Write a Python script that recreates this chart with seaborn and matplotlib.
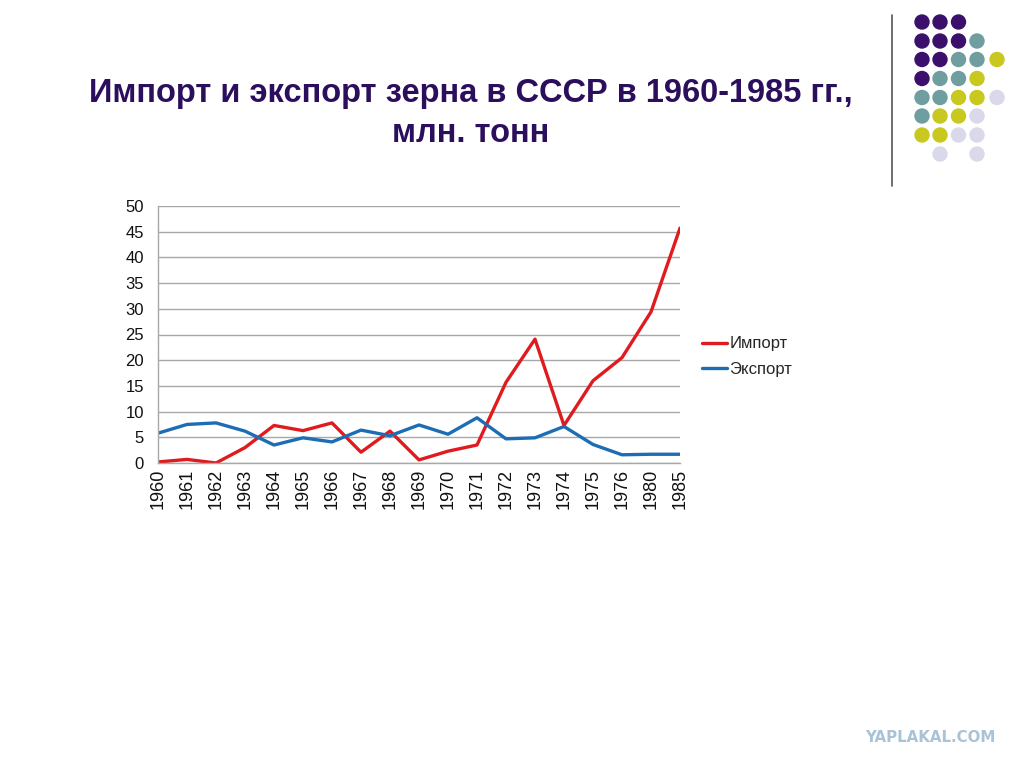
import pandas as pd
import numpy as np
import matplotlib
matplotlib.use("Agg")
import matplotlib.pyplot as plt
import seaborn as sns
from matplotlib.patches import Circle
from matplotlib.lines import Line2D

# grain import / export of the USSR, mln tonnes
years = ['1960', '1961', '1962', '1963', '1964', '1965', '1966', '1967', '1968', '1969',
         '1970', '1971', '1972', '1973', '1974', '1975', '1976', '1980', '1985']
import_vals = [0.2, 0.7, 0.0, 3.0, 7.3, 6.3, 7.8, 2.1, 6.2, 0.6,
               2.3, 3.5, 15.7, 24.1, 7.3, 16.0, 20.5, 29.4, 45.7]
export_vals = [5.8, 7.5, 7.8, 6.2, 3.5, 4.9, 4.1, 6.4, 5.3, 7.4,
               5.6, 8.8, 4.7, 4.9, 7.1, 3.6, 1.6, 1.7, 1.7]
series_names = ['Импорт', 'Экспорт']
series_colors = ['#e01b1f', '#1c6db4']
title_lines = ['Импорт и экспорт зерна в СССР в 1960-1985 гг.,', 'млн. тонн']

# decorative dot pattern of the slide template (P purple, T teal, Y yellow, L lilac)
dot_rows = ['PPP..', 'PPPT.', 'PPTTY', 'PTTY.', 'TTYYL', 'TYYL.', 'YYLL.', '.L.L.']
dot_colors = {'P': '#3b0f6b', 'T': '#6f9da0', 'Y': '#c9c81f', 'L': '#d9d9ea'}

df = pd.DataFrame({'year': years * 2,
                   'value': import_vals + export_vals,
                   'series': [series_names[0]] * len(years) + [series_names[1]] * len(years)})

sns.set_style('white')
plt.rcParams['font.family'] = ['Liberation Sans', 'DejaVu Sans']

W, H = 1024, 767
fig = plt.figure(figsize=(W / 100, H / 100), dpi=100)
ax = fig.add_axes([158 / W, 1 - 463 / H, 522 / W, 257 / H])

sns.lineplot(data=df, x='year', y='value', hue='series', palette=series_colors,
             linewidth=2.4, ax=ax, legend=False, sort=False)

ax.set_xlim(0, len(years) - 1)
ax.set_ylim(0, 50)
ax.set_yticks(np.arange(0, 51, 5))
ax.yaxis.grid(True, color='#a8a8a8', linewidth=1)
ax.set_axisbelow(True)
ax.set_xlabel('')
ax.set_ylabel('')
for s in ['top', 'right']:
    ax.spines[s].set_visible(False)
for s in ['left', 'bottom']:
    ax.spines[s].set_color('#a8a8a8')
    ax.spines[s].set_linewidth(1)
ax.tick_params(axis='x', rotation=90, labelsize=13, length=3, color='#a8a8a8', pad=1)
ax.tick_params(axis='y', labelsize=12, length=4, color='#a8a8a8', pad=6)
for lbl in ax.get_xticklabels() + ax.get_yticklabels():
    lbl.set_color('#111111')

handles = [Line2D([0], [0], color=c, lw=2.4) for c in series_colors]
fig.legend(handles, series_names, loc='upper left', bbox_to_anchor=(694 / W, 1 - 328 / H),
           frameon=False, fontsize=12, handlelength=1.5, handletextpad=0.12, labelspacing=0.62,
           borderpad=0)

for txt, base in zip(title_lines, [102, 142]):
    fig.text(471 / W, 1 - base / H, txt, ha='center', va='baseline', fontsize=23.5,
             fontweight='bold', color='#2b0f5c')

# slide template decorations
fig.add_artist(Line2D([892 / W, 892 / W], [1 - 15 / H, 1 - 186 / H],
                      color='#555555', lw=1.2, transform=fig.transFigure))
col_x = [922, 940, 958.5, 977, 997]
row_y = [22, 41, 59.5, 78.5, 97.5, 116, 135, 154]
for r, row in enumerate(dot_rows):
    for c, ch in enumerate(row):
        if ch in dot_colors:
            fig.add_artist(Circle((col_x[c], H - row_y[r]), 7, color=dot_colors[ch],
                                  transform=None))

fig.text(930 / W, 1 - 737 / H, 'YAPLAKAL.COM', ha='center', va='center',
         fontsize=10.8, fontweight='bold', color='#a9c3d6', family=['DejaVu Sans'])

fig.savefig('out.png', dpi=100, facecolor='white')
